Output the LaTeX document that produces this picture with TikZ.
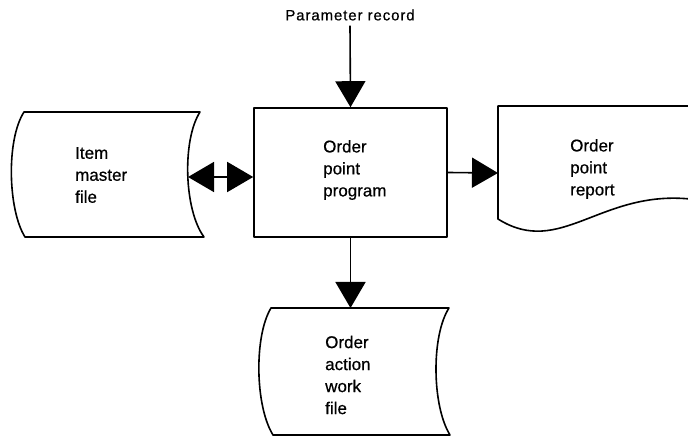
\documentclass[tikz,border=0pt]{standalone}
\usepackage{fontspec}
\setmainfont{Liberation Sans}
\newfontfamily\lblfont{Liberation Sans}[FakeBold=0.6]
\newfontfamily\paramfont{Liberation Sans}[LetterSpace=6,FakeBold=0.6]
\usetikzlibrary{arrows.meta}
\tikzset{
  outline/.style={line width=1.6pt, line join=round},
  conn/.style={line width=1.6pt, -{Triangle[length=26pt,width=30pt]}},
  dconn/.style={line width=1.6pt, {Triangle[length=26pt,width=30pt]}-{Triangle[length=26pt,width=30pt]}},
  label/.style={font=\lblfont\fontsize{17}{22}\selectfont, align=left, inner sep=0pt, anchor=west},
}
\begin{document}
\begin{tikzpicture}[x=1pt,y=-1pt]
\useasboundingbox (0,0) rectangle (688,438);
\begin{scope}
\clip (0,0) rectangle (688,438);
% program box
\node[draw, outline, minimum width=193pt, minimum height=129pt, inner sep=0pt] (prog) at (350.5,172.5) {};
\node[label] (progt) at (323,170) {Order\\point\\program};
% parameter record
\node[font=\paramfont\fontsize{15}{17}\selectfont, inner sep=0pt] (param) at (350,15) {Parameter record};
% item master file
\draw[outline] (24,112) -- (200,112) .. controls (182,140) and (184,210) .. (204,237)
  -- (25,237) .. controls (8,210) and (6,140) .. (24,112) -- cycle;
\coordinate (itemR) at (188,177);
\node[label] (itemt) at (75,175) {Item\\master\\file};
% order point report
\draw[outline] (690,106) -- (498,106) -- (498,219) .. controls (560,258) and (600,190) .. (690,199);
\coordinate (repL) at (498,173);
\node[label] (rept) at (570,169) {Order\\point\\report};
% order action work file
\draw[outline] (271,308) -- (449,308) .. controls (431,336) and (432,406) .. (450,435)
  -- (273,435) .. controls (255,406) and (254,336) .. (271,308) -- cycle;
\coordinate (fileT) at (350.5,308);
\node[label] (filet) at (325,375) {Order\\action\\work\\file};
% connectors
\draw[conn] ([yshift=-5pt]param.south) -- (prog.north);
\draw[dconn] (itemR) -- (prog.west |- itemR);
\draw[conn] (prog.east) -- (repL);
\draw[conn] (prog.south) -- (fileT);
\end{scope}
\end{tikzpicture}
\end{document}
